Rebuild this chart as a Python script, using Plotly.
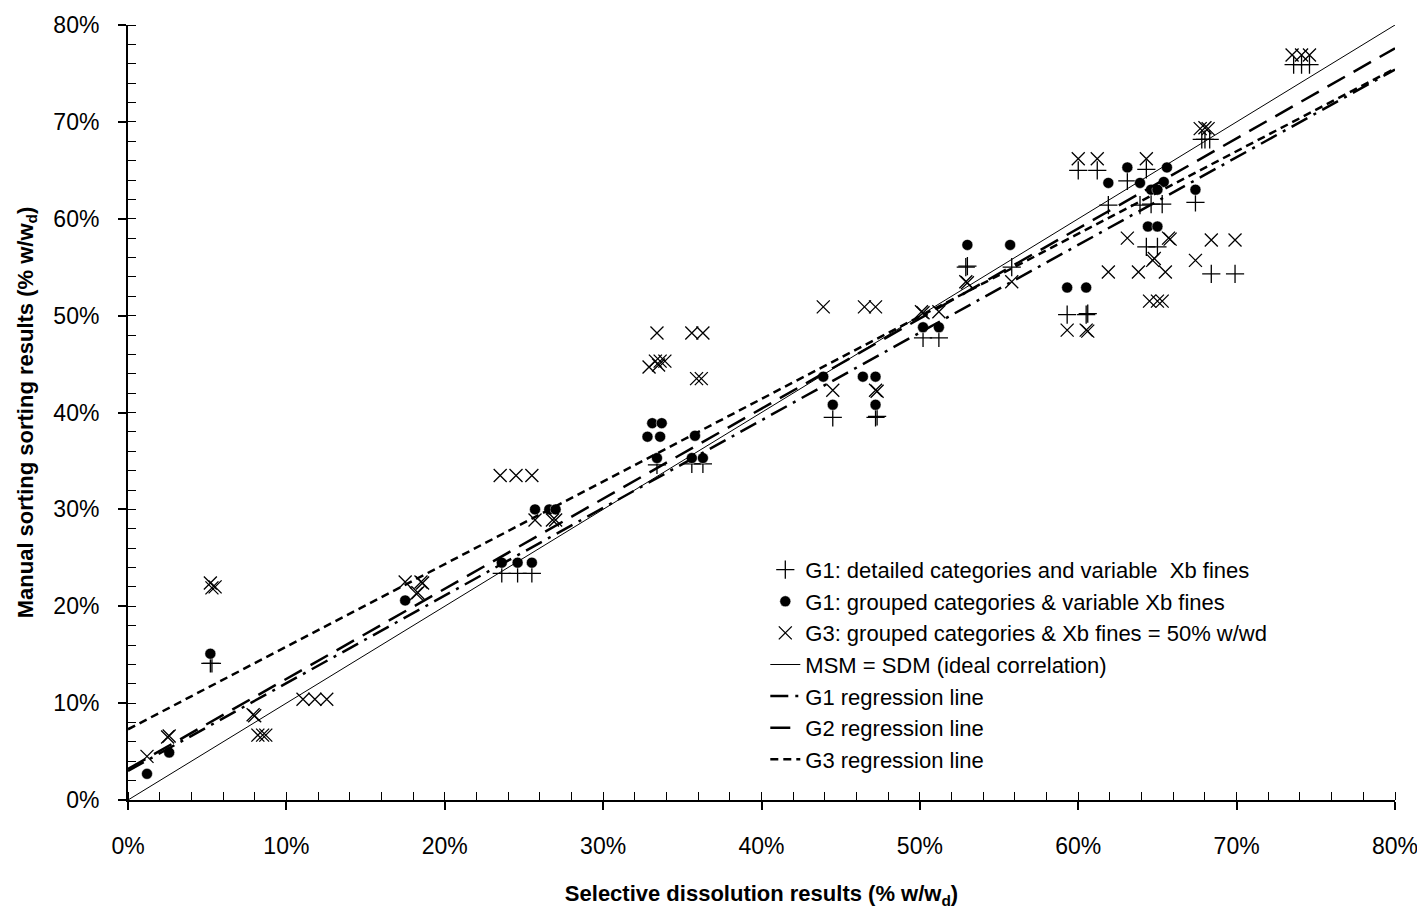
import numpy as np
import plotly.graph_objects as go

# ---- data (% w/wd) ----
g1_detailed_x = [5.2, 5.3, 23.6, 24.6, 25.5, 33.4, 35.6, 36.3, 44.5, 47.2, 47.3,
                 50.2, 51.2, 52.9, 53.0, 55.8, 59.3, 60.5, 60.6, 60.0, 61.2, 64.3,
                 63.1, 67.4, 61.9, 63.9, 64.6, 65.3, 64.3, 65.0, 68.4, 69.9,
                 67.8, 68.0, 68.3, 73.6, 74.1, 74.6]
g1_detailed_y = [14.1, 14.1, 23.4, 23.4, 23.4, 34.6, 34.7, 34.7, 39.5, 39.5, 39.6,
                 47.7, 47.7, 55.0, 55.1, 55.0, 50.1, 50.1, 50.2, 65.0, 65.0, 65.1,
                 63.9, 61.7, 61.4, 61.4, 61.5, 61.5, 57.1, 57.1, 54.3, 54.3,
                 68.2, 68.2, 68.2, 75.9, 75.9, 75.9]

g1_grouped_x = [1.2, 2.6, 5.2, 17.5, 23.6, 24.6, 25.5, 25.7, 26.6, 27.0,
                33.1, 33.7, 32.8, 33.6, 35.8, 33.4, 35.6, 36.3,
                43.9, 44.5, 46.4, 47.2, 47.2, 50.2, 51.2, 53.0, 55.7,
                59.3, 60.5, 63.1, 65.6, 61.9, 63.9, 65.4, 64.6, 65.0, 67.4,
                64.4, 65.0]
g1_grouped_y = [2.7, 4.9, 15.1, 20.6, 24.5, 24.5, 24.5, 30.0, 30.0, 30.0,
                38.9, 38.9, 37.5, 37.5, 37.6, 35.3, 35.3, 35.3,
                43.7, 40.8, 43.7, 43.7, 40.8, 48.8, 48.8, 57.3, 57.3,
                52.9, 52.9, 65.3, 65.3, 63.7, 63.7, 63.8, 63.0, 63.0, 63.0,
                59.2, 59.2]

g3_x = [1.2, 2.5, 2.6, 5.2, 5.3, 5.5, 7.9, 8.0, 8.2, 8.5, 8.7,
        11.05, 11.8, 12.55, 17.5, 18.5, 18.6, 18.2, 18.3,
        23.5, 24.5, 25.5, 25.7, 26.8, 27.0,
        32.9, 33.3, 33.6, 33.9, 33.5, 35.9, 36.2, 33.4, 35.6, 36.3,
        43.9, 46.5, 47.2, 44.5, 47.2, 47.3, 50.1, 50.2, 51.2,
        52.9, 53.0, 55.8, 59.3, 60.5, 60.6, 64.5, 65.0, 65.3,
        60.0, 61.2, 64.3, 63.1, 65.7, 65.8, 68.4, 69.9,
        67.4, 61.9, 63.8, 64.7, 64.8, 65.5,
        67.7, 68.0, 68.2, 73.5, 74.1, 74.6]
g3_y = [4.5, 6.5, 6.6, 22.4, 21.9, 22.0, 8.8, 8.7, 6.7, 6.7, 6.7,
        10.4, 10.4, 10.4, 22.5, 22.5, 22.4, 21.3, 21.4,
        33.5, 33.5, 33.5, 28.9, 28.9, 28.9,
        44.7, 45.3, 45.3, 45.3, 44.9, 43.5, 43.5, 48.2, 48.2, 48.2,
        50.9, 50.9, 50.9, 42.3, 42.3, 42.2, 50.4, 50.3, 50.4,
        53.5, 53.4, 53.5, 48.5, 48.5, 48.4, 51.5, 51.5, 51.5,
        66.2, 66.2, 66.2, 58.0, 58.0, 57.9, 57.8, 57.8,
        55.7, 54.5, 54.5, 55.7, 55.9, 54.5,
        69.3, 69.4, 69.3, 76.9, 76.9, 76.9]

# regression lines: intercept, slope
line_x = [0, 80]
ideal = (0.0, 1.0)
g1_reg = (3.0, 0.905)
g2_reg = (3.2, 0.93)
g3_reg = (7.3, 0.8525)

FONT = "Liberation Sans, Arial, sans-serif"

def reg_y(p):
    a, b = p
    return list(a + b * np.array(line_x, dtype=float))

fig = go.Figure()
fig.add_trace(go.Scatter(
    x=g1_detailed_x, y=g1_detailed_y, mode="markers",
    name="G1: detailed categories and variable \u00a0Xb fines",
    marker=dict(symbol="cross-thin", size=13, color="black",
                line=dict(color="black", width=1.3))))
fig.add_trace(go.Scatter(
    x=g1_grouped_x, y=g1_grouped_y, mode="markers",
    name="G1: grouped categories & variable Xb fines",
    marker=dict(symbol="circle", size=11, color="black",
                line=dict(color="white", width=0.5))))
fig.add_trace(go.Scatter(
    x=g3_x, y=g3_y, mode="markers",
    name="G3: grouped categories & Xb fines = 50% w/wd",
    marker=dict(symbol="x-thin", size=13, color="black",
                line=dict(color="black", width=1.3))))
fig.add_trace(go.Scatter(
    x=line_x, y=reg_y(ideal), mode="lines",
    name="MSM = SDM (ideal correlation)",
    line=dict(color="black", width=1)))
fig.add_trace(go.Scatter(
    x=line_x, y=reg_y(g1_reg), mode="lines", name="G1 regression line",
    line=dict(color="black", width=2.5, dash="18px,7px,3px,7px")))
fig.add_trace(go.Scatter(
    x=line_x, y=reg_y(g2_reg), mode="lines", name="G2 regression line",
    line=dict(color="black", width=2.5, dash="20px,10px")))
fig.add_trace(go.Scatter(
    x=line_x, y=reg_y(g3_reg), mode="lines", name="G3 regression line",
    line=dict(color="black", width=2.5, dash="8px,5px")))

axis_common = dict(
    range=[0, 80], dtick=10, ticksuffix="%", showgrid=False, zeroline=False,
    showline=True, linecolor="black", linewidth=2, automargin=False,
    ticks="outside", ticklen=8, tickwidth=1.5, tickcolor="black",
    tickfont=dict(family=FONT, size=23, color="black"),
    minor=dict(dtick=2, ticks="inside", ticklen=8, tickwidth=1, tickcolor="black"),
)

fig.update_layout(
    width=1425, height=922,
    margin=dict(l=120, r=38, t=17, b=130),
    paper_bgcolor="white", plot_bgcolor="white",
    font=dict(family=FONT, color="black"),
    showlegend=True,
    legend=dict(x=0.503, y=0.324, xanchor="left", yanchor="top",
                bgcolor="rgba(0,0,0,0)", borderwidth=0,
                font=dict(family=FONT, size=22, color="black"),
                tracegroupgap=0),
    xaxis=dict(**axis_common, ticklabelstandoff=16,
               title=dict(text="<b>Selective dissolution results (% w/w<sub>d</sub>)</b>",
                          font=dict(family=FONT, size=22), standoff=28)),
    yaxis=dict(**axis_common, ticklabelstandoff=14,
               title=dict(text="<b>Manual sorting sorting results (% w/w<sub>d</sub>)</b>",
                          font=dict(family=FONT, size=22), standoff=14)),
)

fig.write_html("out.html")
